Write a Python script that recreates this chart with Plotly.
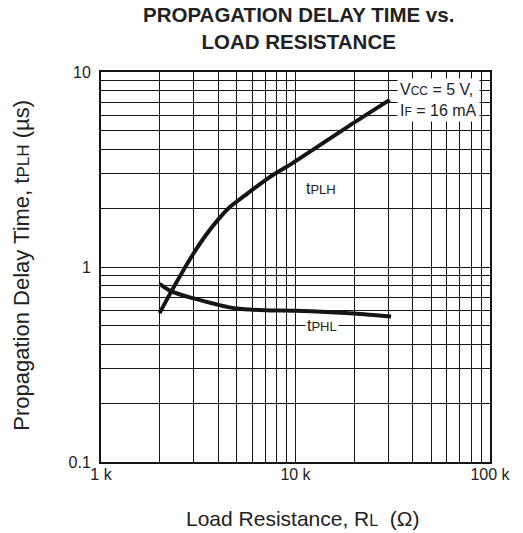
import plotly.graph_objects as go

# ---- data (x in ohms, y in microseconds) ----
tplh_x = [2000, 2300, 3000, 3450, 4000, 4600, 5500, 7400, 9700, 20000, 30500]
tplh_y = [0.58, 0.75, 1.18, 1.45, 1.75, 2.03, 2.33, 2.9, 3.42, 5.5, 7.2]

tphl_x = [2000, 2300, 3000, 4000, 5000, 7000, 10000, 20000, 31000]
tphl_y = [0.82, 0.75, 0.69, 0.64, 0.612, 0.60, 0.597, 0.578, 0.557]

x_grid = [1000, 2000, 3000, 4000, 5000, 6000, 7000, 8000, 9000,
          10000, 20000, 30000, 40000, 50000, 60000, 70000, 80000, 90000, 100000]
x_text = ["1 k", "", "", "", "", "", "", "", "",
          "10 k", "", "", "", "", "", "", "", "", "100 k"]
y_grid = [0.1, 0.2, 0.3, 0.4, 0.5, 0.6, 0.7, 0.8, 0.9,
          1, 2, 3, 4, 5, 6, 7, 8, 9, 10]
y_text = ["0.1", "", "", "", "", "", "", "", "",
          "1", "", "", "", "", "", "", "", "", "10"]

FONT = "Liberation Sans, Arial, sans-serif"
INK = "#151515"
TXT = "#222"

fig = go.Figure()
for xs, ys in [(tplh_x, tplh_y), (tphl_x, tphl_y)]:
    fig.add_trace(go.Scatter(x=xs, y=ys, mode="lines",
                             line=dict(color=INK, width=4, shape="spline", smoothing=0.8),
                             showlegend=False, hoverinfo="skip"))

axis_common = dict(showline=True, mirror=True, linecolor=INK, linewidth=2,
                   showgrid=True, gridcolor=INK, gridwidth=1.4, zeroline=False,
                   ticks="", tickfont=dict(family=FONT, size=16, color=TXT))

fig.update_xaxes(type="log", range=[3, 5], tickmode="array",
                 tickvals=x_grid, ticktext=x_text, ticklabelstandoff=-3, **axis_common)
fig.update_yaxes(type="log", range=[-1, 1], tickmode="array",
                 tickvals=y_grid, ticktext=y_text, ticklabelstandoff=5, **axis_common)

annotations = [
    dict(text="<b>PROPAGATION DELAY TIME vs.<br>LOAD RESISTANCE</b>",
         xref="paper", yref="paper", x=0.5077, y=1.112, xanchor="center", yanchor="middle",
         showarrow=False, font=dict(family=FONT, size=20.5, color=TXT)),
    dict(text="Load Resistance, R<span style='font-size:16px'>L</span>  (Ω)",
         xref="paper", yref="paper", x=0.518, y=-0.1436, xanchor="center", yanchor="middle",
         showarrow=False, font=dict(family=FONT, size=21, color=TXT)),
    dict(text="Propagation Delay Time, t<span style='font-size:17px'>PLH</span> (µs)",
         xref="paper", yref="paper", x=-0.2066, y=0.505, xanchor="center", yanchor="middle",
         textangle=-90, showarrow=False, font=dict(family=FONT, size=22, color=TXT)),
    dict(text="V<span style='font-size:12px'>CC</span> = 5 V,<br>I<span style='font-size:12px'>F</span> = 16 mA",
         xref="paper", yref="paper", x=0.974, y=0.985, xanchor="right", yanchor="top",
         align="left", bgcolor="white", borderpad=2, showarrow=False,
         font=dict(family=FONT, size=16, color=TXT)),
    dict(text="t<span style='font-size:13px'>PLH</span>",
         x=4.13, y=0.405, xref="x", yref="y", xanchor="center", yanchor="middle",
         showarrow=False, font=dict(family=FONT, size=16, color=TXT)),
    dict(text="t<span style='font-size:13px'>PHL</span>",
         x=4.135, y=-0.301, xref="x", yref="y", xanchor="center", yanchor="middle",
         bgcolor="white", borderpad=1, showarrow=False,
         font=dict(family=FONT, size=16, color=TXT)),
]

fig.update_layout(width=523, height=533, margin=dict(l=101, r=30, t=72, b=71),
                  paper_bgcolor="white", plot_bgcolor="white",
                  font=dict(family=FONT, color=TXT),
                  annotations=annotations)

fig.write_html("out.html", config={"displayModeBar": False},
               post_script="document.body.style.margin='0';document.body.style.overflow='hidden';")
